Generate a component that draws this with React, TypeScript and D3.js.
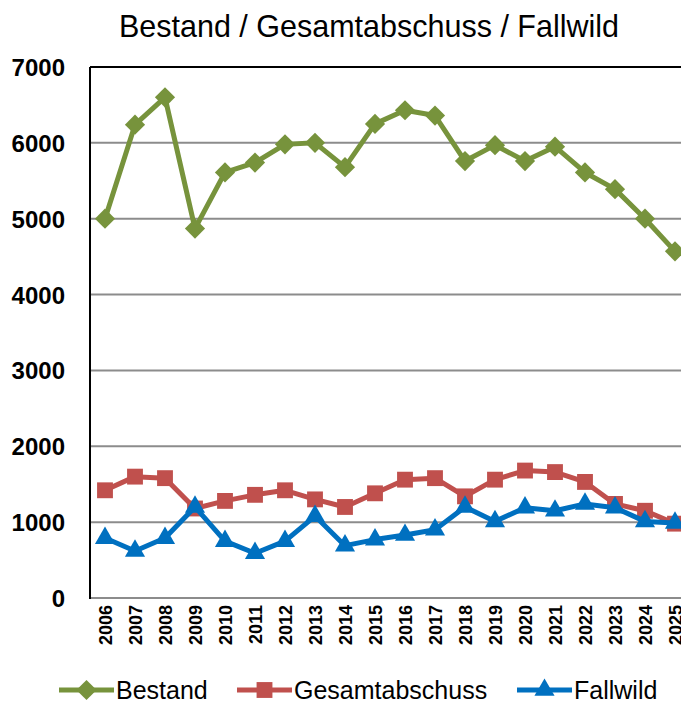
import React, { useEffect, useRef } from "react";
import * as d3 from "d3";

const years = [
  "2006", "2007", "2008", "2009", "2010", "2011", "2012", "2013", "2014", "2015",
  "2016", "2017", "2018", "2019", "2020", "2021", "2022", "2023", "2024", "2025",
];
const bestand = [5000, 6240, 6600, 4870, 5610, 5740, 5980, 6000, 5680, 6250, 6430, 6360, 5760, 5970, 5760, 5950, 5610, 5390, 5000, 4570];
const gesamtabschuss = [1420, 1600, 1580, 1180, 1280, 1360, 1420, 1300, 1200, 1380, 1560, 1580, 1340, 1560, 1680, 1660, 1530, 1240, 1150, 980];
const fallwild = [790, 620, 790, 1200, 750, 590, 750, 1080, 690, 770, 830, 900, 1200, 1010, 1190, 1150, 1240, 1190, 1010, 990];
const yTicks = [0, 1000, 2000, 3000, 4000, 5000, 6000, 7000];

const series = [
  { name: "Bestand", values: bestand, color: "#77933C", symbol: d3.symbolDiamond2, size: 260 },
  { name: "Gesamtabschuss", values: gesamtabschuss, color: "#C0504D", symbol: d3.symbolSquare2, size: 320 },
  { name: "Fallwild", values: fallwild, color: "#0070C0", symbol: d3.symbolTriangle2, size: 290 },
];

const W = 681;
const H = 705;
const FONT = "'Liberation Sans', Arial, sans-serif";

export default function App() {
  const svgRef = useRef<SVGSVGElement>(null);

  useEffect(() => {
    const svg = d3.select(svgRef.current);
    svg.selectAll("*").remove();

    const left = 90, top = 67, right = 690, bottom = 598;
    const x = d3.scaleBand().domain(years).range([left, right]).padding(0);
    const y = d3.scaleLinear().domain([0, 7000]).range([bottom, top]);
    const cx = (yr: string) => (x(yr) as number) + x.bandwidth() / 2;

    // Titel
    svg.append("text")
      .attr("x", 369).attr("y", 37)
      .attr("text-anchor", "middle")
      .style("font-family", FONT).style("font-size", "30.5px")
      .attr("fill", "#000")
      .text("Bestand / Gesamtabschuss / Fallwild");

    // Gitterlinien (inkl. Grundlinie bei 0)
    svg.append("g").selectAll("line")
      .data(yTicks.filter((t) => t < 7000))
      .enter().append("line")
      .attr("x1", left).attr("x2", right)
      .attr("y1", (d) => y(d)).attr("y2", (d) => y(d))
      .attr("stroke", "#8c8c8c").attr("stroke-width", 2);

    // Rahmen oben + links
    svg.append("line").attr("x1", left).attr("x2", right).attr("y1", top).attr("y2", top)
      .attr("stroke", "#000").attr("stroke-width", 2);
    svg.append("line").attr("x1", left).attr("x2", left).attr("y1", top).attr("y2", bottom + 1)
      .attr("stroke", "#000").attr("stroke-width", 2);

    // Y-Achse
    svg.append("g").selectAll("text")
      .data(yTicks).enter().append("text")
      .attr("x", 65).attr("y", (d) => y(d) + 9)
      .attr("text-anchor", "end")
      .style("font-family", FONT).style("font-size", "24px").style("font-weight", "bold")
      .text((d) => String(d));

    // X-Achse
    svg.append("g").selectAll("text")
      .data(years).enter().append("text")
      .attr("transform", (d) => `translate(${cx(d) + 6.5},${bottom + 7}) rotate(-90)`)
      .attr("text-anchor", "end")
      .style("font-family", FONT).style("font-size", "18px").style("font-weight", "bold")
      .text((d) => d);

    // Linien + Marker
    const line = d3.line<number>().x((_, i) => cx(years[i])).y((d) => y(d));
    series.forEach((s) => {
      svg.append("path")
        .attr("d", line(s.values) as string)
        .attr("fill", "none").attr("stroke", s.color)
        .attr("stroke-width", 5).attr("stroke-linejoin", "round");
      const sym = d3.symbol().type(s.symbol).size(s.size);
      svg.append("g").selectAll("path")
        .data(s.values).enter().append("path")
        .attr("d", sym() as string)
        .attr("transform", (d, i) => `translate(${cx(years[i])},${y(d)})`)
        .attr("fill", s.color);
    });

    // Legende
    const legX = [59, 237, 517];
    series.forEach((s, i) => {
      const g = svg.append("g").attr("transform", `translate(${legX[i]},690)`);
      g.append("line").attr("x1", 0).attr("x2", 55).attr("y1", 0).attr("y2", 0)
        .attr("stroke", s.color).attr("stroke-width", 5);
      g.append("path")
        .attr("d", d3.symbol().type(s.symbol).size(s.size)() as string)
        .attr("transform", "translate(27.5,0)")
        .attr("fill", s.color);
      g.append("text")
        .attr("x", 57).attr("y", 9)
        .style("font-family", FONT).style("font-size", "25px")
        .text(s.name);
    });
  }, []);

  return (
    <svg
      ref={svgRef}
      width={W}
      height={H}
      style={{ position: "absolute", left: 0, top: 0, background: "#fff" }}
    ></svg>
  );
}
